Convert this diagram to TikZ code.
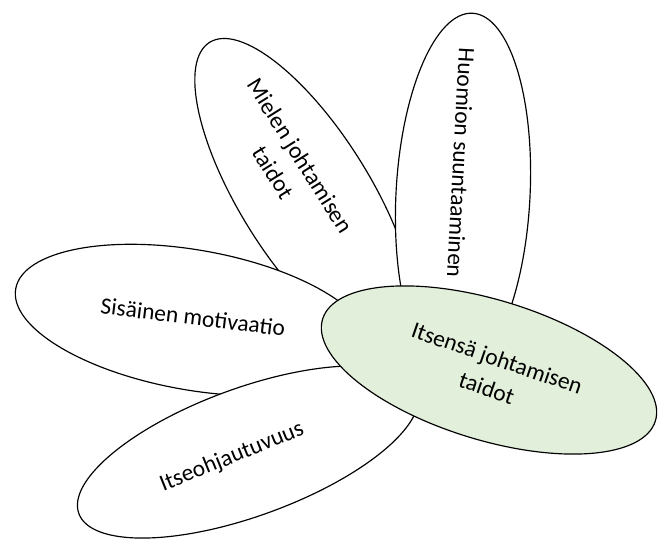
\documentclass[tikz,border=0pt]{standalone}
\usepackage{fontspec}
\setmainfont{Carlito}
\usetikzlibrary{shapes.geometric}
\definecolor{petalgreen}{HTML}{E2EFDA}
\tikzset{
  petal/.style={draw=black, line width=1pt, fill=white, ellipse, inner sep=0pt},
  petaltext/.style={font=\fontsize{20}{27}\selectfont, align=center, inner sep=0pt}
}
\begin{document}
\begin{tikzpicture}[x=0.03cm, y=-0.03cm]
  \useasboundingbox (0,0) rectangle (659,540);
  \node[petal, rotate=-58, minimum width=10.8cm, minimum height=3.9cm] (mielen) at (305,195) {};
  \node[petaltext, rotate=-58] (mielenteksti) at (287,164) {Mielen johtamisen\\taidot};
  \node[petal, rotate=-93, minimum width=10.92cm, minimum height=4.02cm] (huomion) at (463,195) {};
  \node[petaltext, rotate=-93] (huomionteksti) at (461,163) {Huomion suuntaaminen};
  \node[petal, rotate=-10, minimum width=10.8cm, minimum height=4.2cm] (sisainen) at (193,320) {};
  \node[petaltext, rotate=-7] (sisainenteksti) at (193,317) {Sisäinen motivaatio};
  \node[petal, rotate=20, minimum width=10.8cm, minimum height=3.84cm] (itseohj) at (248,452) {};
  \node[petaltext, rotate=22] (itseohjteksti) at (232,457) {Itseohjautuvuus};
  \node[petal, fill=petalgreen, rotate=-17, minimum width=10.44cm, minimum height=4.2cm] (itsensa) at (489,370) {};
  \node[petaltext, rotate=-19] (itsensateksti) at (492,373) {Itsensä johtamisen\\taidot};
\end{tikzpicture}
\end{document}
